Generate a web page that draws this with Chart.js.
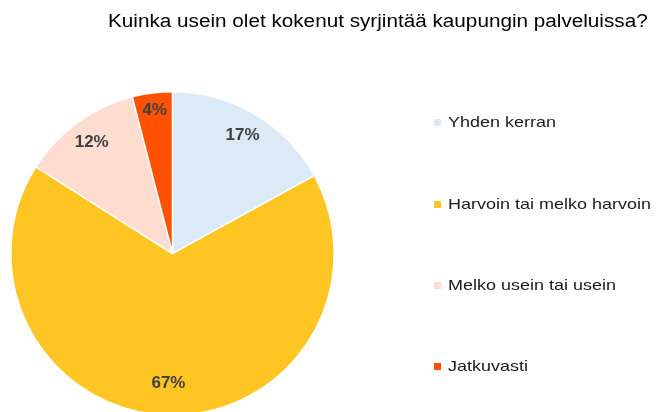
<!DOCTYPE html>
<html>
<head>
<meta charset="utf-8">
<script src="https://cdn.jsdelivr.net/npm/chart.js@4.4.0/dist/chart.umd.min.js"></script>
<style>
  html, body { margin: 0; padding: 0; background: #fff; }
  #wrap { position: relative; width: 656px; height: 412px; overflow: hidden; font-family: "Liberation Sans", Arial, sans-serif; }
  #chartBox { position: absolute; left: 0; top: 0; width: 656px; height: 430px; }
  #title { position: absolute; left: 108px; top: 9px; font-size: 18px; line-height: 24px; color: #000;
           white-space: nowrap; transform: scaleX(1.15); transform-origin: 0 50%; }
  .leg { position: absolute; left: 434px; height: 20px; line-height: 20px; font-size: 15px; color: #1a1a1a; white-space: nowrap; }
  .leg span.box { position: absolute; left: 0; top: 7px; width: 7px; height: 7px; }
  .leg span.txt { position: absolute; left: 14px; top: 0; transform: scaleX(1.2); transform-origin: 0 50%; }
</style>
</head>
<body>
<div id="wrap">
  <div id="chartBox"><canvas id="myChart" width="656" height="430"></canvas></div>
  <div id="title">Kuinka usein olet kokenut syrjintää kaupungin palveluissa?</div>
  <div id="legend"></div>
</div>
<script>
// Kategoriat ja arvot (%)
var categories = ['Yhden kerran', 'Harvoin tai melko harvoin', 'Melko usein tai usein', 'Jatkuvasti'];
var values = [17, 67, 12, 4];
var colors = ['#dce9f7', '#ffc522', '#fedcd0', '#ff5100'];

// Legenda oikealle puolelle
var legendCenters = [122, 203.5, 284.5, 366];
var legend = document.getElementById('legend');
categories.forEach(function (cat, i) {
    var row = document.createElement('div');
    row.className = 'leg';
    row.style.top = (legendCenters[i] - 10) + 'px';
    row.innerHTML = '<span class="box" style="background:' + colors[i] + '"></span><span class="txt">' + cat + '</span>';
    legend.appendChild(row);
});

// Prosenttiluvut sektorien sisälle (etäisyys keskipisteestä suhteessa säteeseen)
var labelRadius = [0.85, 0.80, 0.85, 0.89];
var pctLabels = {
    id: 'pctLabels',
    afterDatasetsDraw: function (chart) {
        var ctx = chart.ctx;
        var meta = chart.getDatasetMeta(0);
        ctx.save();
        ctx.font = 'bold 17px "Liberation Sans", Arial, sans-serif';
        ctx.fillStyle = '#404040';
        ctx.textAlign = 'center';
        ctx.textBaseline = 'middle';
        meta.data.forEach(function (arc, i) {
            var p = arc.getProps(['x', 'y', 'startAngle', 'endAngle', 'outerRadius'], true);
            var mid = (p.startAngle + p.endAngle) / 2;
            var r = p.outerRadius * labelRadius[i];
            ctx.fillText(values[i] + '%', p.x + Math.cos(mid) * r, p.y + Math.sin(mid) * r);
        });
        ctx.restore();
    }
};

var ctx = document.getElementById('myChart').getContext('2d');
var chart = new Chart(ctx, {
    type: 'pie',
    data: {
        labels: categories,
        datasets: [{
            data: values,
            backgroundColor: colors,
            borderColor: '#ffffff',
            borderWidth: 1.5
        }]
    },
    options: {
        responsive: false,
        animation: false,
        layout: { padding: { left: 10, right: 321, top: 91, bottom: 14 } },
        plugins: {
            legend: { display: false },
            tooltip: { enabled: false }
        }
    },
    plugins: [pctLabels]
});
</script>
</body>
</html>
